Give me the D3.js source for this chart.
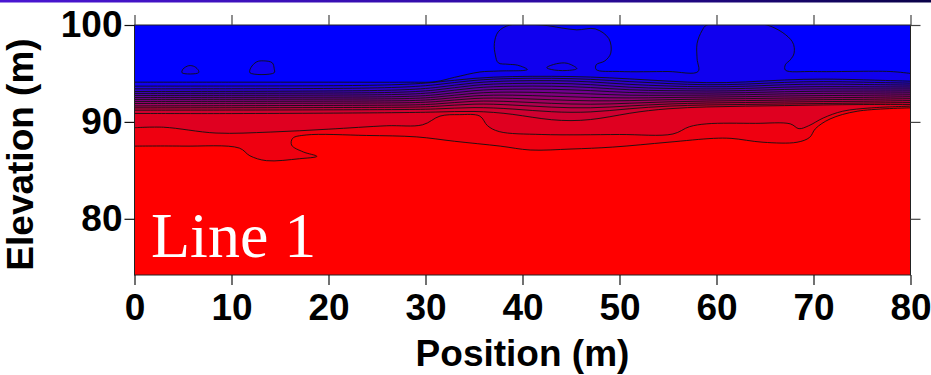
<!DOCTYPE html>
<html><head><meta charset="utf-8">
<script src="https://cdn.jsdelivr.net/npm/d3@7"></script>
<style>html,body{margin:0;padding:0;background:#fff;} svg{display:block;}</style>
</head><body>
<svg id="chart" width="931" height="375"></svg>
<script>
// ---------------- data ----------------
const xTicks = [0, 10, 20, 30, 40, 50, 60, 70, 80];
const yTicks = [80, 90, 100];
const xDomain = [0, 80];
const yDomain = [74.2, 100];
const levelCount = 16;          // number of contour lines; bands = levelCount + 1
const chartLabel = "Line 1";
const xTitle = "Position (m)";
const yTitle = "Elevation (m)";

// Contour line 1 (top of transition, with the two bulges reaching the surface)
const line1 = [[0,94.1],[10,94.1],[20,94.1],[28,94.1],[31,94.15],[33,94.6],[35.6,95.15],[37.5,95.25],[40.5,95.4],
  [39.5,95.85],[38.5,95.95],[37.5,96.1],[37.2,96.9],[37.1,98.1],[37.5,99.3],[38.7,100],[42,100],[44,99.7],[45.6,99.5],
  [47.5,99.6],[48.9,98.6],[49.1,97.1],[48.5,96.3],[47.6,95.9],[47.6,95.4],[50,95.2],[55,95.2],[58.1,95.2],[58.0,96.5],
  [58.0,98.1],[58.5,99.4],[59.0,100],[65.2,100],[67.8,98.3],[68.0,97.1],[67.6,96.4],[67.1,95.9],[67.1,95.35],[70,95.2],
  [77.9,95.2],[80,95.0]];

// Contour lines 2..14 (dense transition), elevations at these positions
const clusterPositions = [0, 10, 20, 27, 31, 35, 39, 43, 47, 51, 55, 59, 63, 67, 71, 75, 80];
const line2  = [93.69,93.70,93.72,93.80,94.05,94.55,94.70,94.72,94.65,94.45,94.20,94.00,94.10,94.35,94.45,94.35,94.20];
const line3  = [93.41,93.42,93.44,93.52,93.78,94.35,94.50,94.52,94.42,94.15,93.95,93.80,93.88,94.10,94.18,94.10,94.00];
const line4  = [93.14,93.15,93.18,93.25,93.48,94.10,94.25,94.28,94.16,93.85,93.70,93.60,93.66,93.85,93.92,93.86,93.80];
const line5  = [92.94,92.95,92.97,93.02,93.22,93.85,93.98,94.00,93.88,93.55,93.45,93.38,93.44,93.60,93.66,93.62,93.60];
const line6  = [92.73,92.74,92.76,92.80,92.97,93.58,93.70,93.70,93.58,93.28,93.22,93.17,93.22,93.36,93.42,93.40,93.40];
const line7  = [92.52,92.53,92.55,92.58,92.72,93.30,93.40,93.38,93.25,93.00,92.98,92.96,93.01,93.12,93.18,93.18,93.20];
const line8  = [92.32,92.33,92.35,92.37,92.48,93.03,93.10,93.02,92.90,92.72,92.75,92.76,92.80,92.90,92.95,92.96,93.00];
const line9  = [92.11,92.12,92.14,92.16,92.25,92.76,92.78,92.65,92.52,92.45,92.52,92.56,92.60,92.68,92.72,92.74,92.80];
const line10 = [91.90,91.91,91.93,91.95,92.02,92.50,92.45,92.28,92.15,92.18,92.30,92.36,92.40,92.46,92.50,92.52,92.60];
const line11 = [91.65,91.67,91.70,91.72,91.78,92.22,92.10,91.90,91.78,91.92,92.08,92.16,92.20,92.25,92.30,92.32,92.40];
const line12 = [91.45,91.46,91.48,91.50,91.55,91.92,91.75,91.50,91.40,91.65,91.86,91.96,92.00,92.05,92.10,92.12,92.20];
const line13 = [91.21,91.22,91.24,91.27,91.30,91.55,91.35,91.00,90.95,91.38,91.65,91.76,91.80,91.85,91.90,91.94,92.00];
const line14 = [90.87,90.85,90.90,90.95,91.00,91.15,90.85,90.10,90.10,90.95,91.40,91.56,91.62,91.68,91.75,91.80,91.80];

// Contour lines 15 and 16 (lower transition to the conductive layer)
const line15 = [[0,89.4],[3,89.45],[8.4,88.85],[14,88.95],[20,89.25],[26,89.6],[29.7,89.7],[31.5,90.6],[33.5,90.75],
  [35.6,90.6],[36.4,89.6],[37.6,89.0],[42,88.7],[50,88.7],[55.5,88.75],[57.2,89.5],[59,89.8],[64,89.85],[67.6,89.8],
  [68.5,89.3],[69.5,89.6],[71,90.4],[73,91.1],[76,91.45],[80,91.62]];
const line16 = [[0,87.5],[5,87.5],[10.8,87.3],[11.9,86.5],[13.6,86.0],[17,86.2],[18.8,86.45],[17.4,86.9],[16.2,87.6],
  [16.3,88.3],[17.7,88.65],[23.9,88.6],[29.1,88.45],[33,88.0],[37.7,87.5],[40.8,87.1],[45,87.2],[49.3,87.4],[55,87.9],
  [59.7,88.3],[61.5,88.3],[64.8,87.9],[68.3,87.9],[69.6,88.4],[70.2,89.3],[71.7,90.3],[74.5,91.1],[80,91.45]];

// Small closed contours of level 1 in the upper layer
const blobA = [[4.9,95.07],[5.0,95.45],[5.6,95.8],[6.2,95.7],[6.6,95.3],[6.6,95.07]];
const blobB = [[11.9,95.07],[12.0,95.6],[12.6,96.2],[13.3,96.3],[14.2,96.1],[14.4,95.5],[14.4,95.07]];
const blobC = [[42.5,95.6],[43.5,96.0],[44.6,96.05],[45.6,95.5],[44.5,95.3],[43.0,95.4]];

// ---------------- chart ----------------
const svg = d3.select("#chart");
const W = 931, H = 375;
const x = d3.scaleLinear().domain(xDomain).range([134.5, 910.5]);
const y = d3.scaleLinear().domain(yDomain).range([275, 25]);
const color = k => d3.interpolateRgb("#0000ff", "#ff0000")(k / levelCount);

// top gradient strip
const defs = svg.append("defs");
const grad = defs.append("linearGradient").attr("id", "topbar").attr("x1", "0").attr("x2", "1");
grad.append("stop").attr("offset", "0").attr("stop-color", "#4a16d2");
grad.append("stop").attr("offset", "0.6").attr("stop-color", "#2c0aa0");
grad.append("stop").attr("offset", "1").attr("stop-color", "#0a0248");
svg.append("rect").attr("x", 0).attr("y", 0).attr("width", W).attr("height", 2.5).attr("fill", "url(#topbar)");

defs.append("clipPath").attr("id", "plotclip").append("rect")
  .attr("x", x(0)).attr("y", y(100)).attr("width", x(80) - x(0)).attr("height", y(yDomain[0]) - y(100));

const plot = svg.append("g").attr("clip-path", "url(#plotclip)");
plot.append("rect").attr("x", x(0)).attr("y", y(100)).attr("width", x(80) - x(0)).attr("height", y(yDomain[0]) - y(100))
  .attr("fill", color(0));

const clusterRows = [line2, line3, line4, line5, line6, line7, line8, line9, line10, line11, line12, line13, line14];
const lines = [];
lines.push({pts: line1, curve: d3.curveCatmullRom.alpha(0.5)});
clusterRows.forEach(row => lines.push({pts: row.map((v, i) => [clusterPositions[i], v]), curve: d3.curveBasis}));
lines.push({pts: line15, curve: d3.curveCatmullRom.alpha(0.5)});
lines.push({pts: line16, curve: d3.curveCatmullRom.alpha(0.5)});

const gen = c => d3.line().x(d => x(d[0])).y(d => y(d[1])).curve(c);

lines.forEach((L, i) => {
  const k = i + 1;
  const d = gen(L.curve)(L.pts) + `L${x(80)},${y(yDomain[0])}L${x(0)},${y(yDomain[0])}Z`;
  plot.append("path").attr("d", d).attr("fill", color(k)).attr("stroke", "none");
});
lines.forEach(L => {
  plot.append("path").attr("d", gen(L.curve)(L.pts)).attr("fill", "none")
    .attr("stroke", "#111").attr("stroke-width", 0.9);
});
[blobA, blobB, blobC].forEach(b => {
  plot.append("path").attr("d", d3.line().x(d => x(d[0])).y(d => y(d[1])).curve(d3.curveCatmullRomClosed.alpha(0.5))(b))
    .attr("fill", color(1)).attr("stroke", "#111").attr("stroke-width", 0.9);
});

// label inside plot
svg.append("text").attr("x", 151).attr("y", 257).text(chartLabel)
  .attr("font-family", "'Liberation Serif','Times New Roman',serif").attr("font-size", 64).attr("fill", "#fff");

// frame
svg.append("rect").attr("x", x(0)).attr("y", y(100)).attr("width", x(80) - x(0)).attr("height", y(yDomain[0]) - y(100))
  .attr("fill", "none").attr("stroke", "#222").attr("stroke-width", 1);

const font = "'Liberation Sans',Arial,Helvetica,sans-serif";
const styleAxis = (g, col) => {
  g.select(".domain").remove();
  g.selectAll(".tick line").attr("stroke", col).attr("stroke-width", 1.2);
  g.selectAll("text").attr("font-family", font).attr("font-weight", "bold").attr("font-size", 37).attr("fill", "#000");
};
svg.append("g").attr("transform", `translate(0,${y(yDomain[0])})`)
  .call(d3.axisBottom(x).tickValues(xTicks).tickSize(10).tickPadding(9).tickSizeOuter(0))
  .call(g => styleAxis(g, "#111"));
svg.append("g").attr("transform", `translate(${x(0)},0)`)
  .call(d3.axisLeft(y).tickValues(yTicks).tickSize(10).tickPadding(2).tickSizeOuter(0))
  .call(g => styleAxis(g, "#111"));
svg.append("g").attr("transform", `translate(0,${y(100)})`)
  .call(d3.axisTop(x).tickValues(xTicks).tickSize(10).tickFormat("").tickSizeOuter(0))
  .call(g => styleAxis(g, "#444"));
svg.append("g").attr("transform", `translate(${x(80)},0)`)
  .call(d3.axisRight(y).tickValues(yTicks).tickSize(10).tickFormat("").tickSizeOuter(0))
  .call(g => styleAxis(g, "#444"));

svg.append("text").attr("x", (x(0) + x(80)) / 2).attr("y", 366).attr("text-anchor", "middle").text(xTitle)
  .attr("font-family", font).attr("font-weight", "bold").attr("font-size", 37);
svg.append("text").attr("transform", "translate(33,154.5) rotate(-90)").attr("text-anchor", "middle").text(yTitle)
  .attr("font-family", font).attr("font-weight", "bold").attr("font-size", 37);
</script>
</body></html>
